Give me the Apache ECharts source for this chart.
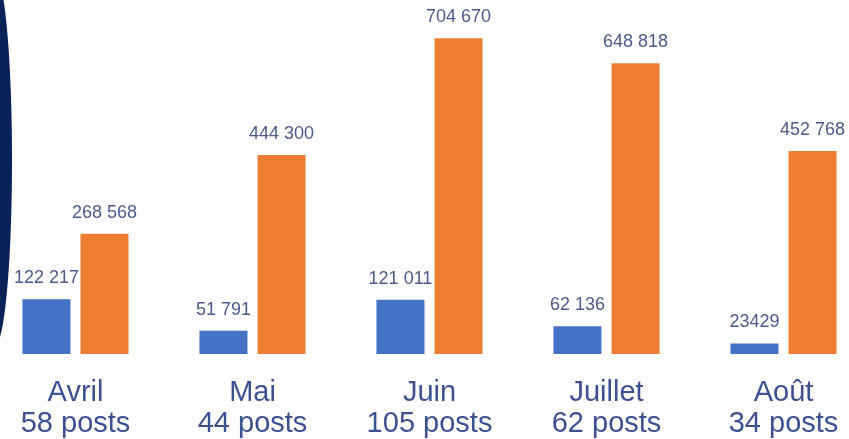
<!DOCTYPE html>
<html>
<head>
<meta charset="utf-8">
<script src="https://cdn.jsdelivr.net/npm/echarts@6/dist/echarts.min.js"></script>
<style>
  html, body { margin: 0; padding: 0; background: #fff; overflow: hidden; }
  /* chart is a bit wider than the window so the first and last groups sit like the slide */
  #chart { width: 885px; height: 439px; margin-left: -13px; }
</style>
</head>
<body>
<div id="chart"></div>
<script>
// data
var months = ['Avril', 'Mai', 'Juin', 'Juillet', 'Août'];
var posts = [58, 44, 105, 62, 34];
var blueValues = [122217, 51791, 121011, 62136, 23429];
var orangeValues = [268568, 444300, 704670, 648818, 452768];
var blueLabels = ['122 217', '51 791', '121 011', '62 136', '23429'];
var orangeLabels = ['268 568', '444 300', '704 670', '648 818', '452 768'];

var chartDom = document.getElementById('chart');
var myChart = echarts.init(chartDom);
var option;

var labelColor = '#4a5a8c';

option = {
    animation: false,
    backgroundColor: '#ffffff',
    textStyle: { fontFamily: '"Liberation Sans", Arial, sans-serif' },
    grid: {
        left: 0,
        right: 0,
        top: 0,
        bottom: 84
    },
    xAxis: {
        type: 'category',
        data: months,
        axisLine: { show: false },
        axisTick: { show: false },
        axisLabel: {
            margin: 23,
            fontSize: 29,
            lineHeight: 31,
            color: '#3d5090',
            formatter: function (value, idx) {
                return value + '\n' + posts[idx] + ' posts';
            }
        }
    },
    yAxis: {
        type: 'value',
        min: 0,
        max: 790000,
        show: false,
        splitLine: { show: false }
    },
    // dark arc on the left edge of the slide
    graphic: [
        {
            type: 'ellipse',
            shape: { cx: 8, cy: 160, rx: 17, ry: 185 },
            style: { fill: '#0b2259' },
            z: 10
        }
    ],
    series: [
        {
            name: 'bleu',
            type: 'bar',
            barWidth: 48,
            barGap: '21%',
            itemStyle: { color: '#4472C4' },
            label: {
                show: true,
                position: 'top',
                distance: 12,
                fontSize: 18,
                color: labelColor,
                formatter: function (p) { return blueLabels[p.dataIndex]; }
            },
            data: blueValues
        },
        {
            name: 'orange',
            type: 'bar',
            barWidth: 48,
            itemStyle: { color: '#ED7D31' },
            label: {
                show: true,
                position: 'top',
                distance: 12,
                fontSize: 18,
                color: labelColor,
                formatter: function (p) { return orangeLabels[p.dataIndex]; }
            },
            data: orangeValues
        }
    ]
};

option && myChart.setOption(option);
</script>
</body>
</html>
